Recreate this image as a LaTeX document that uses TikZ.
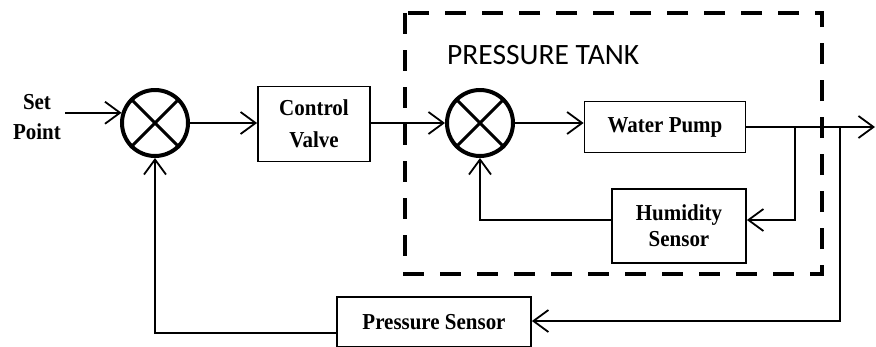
\documentclass[tikz,border=0pt]{standalone}
\usepackage{fontspec}
\setmainfont{Liberation Serif}[FakeStretch=0.92]
\newfontfamily\tankfont{Carlito}
\usetikzlibrary{arrows.meta}
\begin{document}
\begin{tikzpicture}[x=1pt,y=-1pt,
  blk/.style={draw,line width=1.8pt,align=center,inner sep=0pt,font=\fontsize{22.8}{26}\selectfont\bfseries},
  sumnode/.style={draw,circle,line width=4pt,minimum size=66pt,inner sep=0pt},
  conn/.style={line width=1.8pt},
  arr/.style={conn,-{Straight Barb[length=15pt,width=22pt,line width=1.8pt]}},
  tank/.style={draw,line width=4pt,dash pattern=on 21pt off 16pt}]
\useasboundingbox (0,0) rectangle (876,346);
\fill[white] (0,0) rectangle (876,346);
% dashed pressure tank boundary
\draw[tank] (405,13) rectangle (822,274);
\node[font=\tankfont\fontsize{29.5}{33}\selectfont,anchor=west,inner sep=0pt] (title) at (447,55) {PRESSURE TANK};
% nodes
\node[align=center,inner sep=0pt,font=\fontsize{22.8}{30}\selectfont\bfseries] (sp) at (37,117) {Set\\Point};
\node[sumnode] (s1) at (155,123) {};
\node[blk,minimum width=112pt,minimum height=75pt,font=\fontsize{22.8}{32}\selectfont\bfseries] (cv) at (314,124) {Control\\Valve};
\node[sumnode] (s2) at (480,123) {};
\node[blk,minimum width=161pt,minimum height=51pt] (wp) at (665,127) {Water Pump};
\node[blk,minimum width=134pt,minimum height=74pt] (hs) at (679,226) {Humidity\\Sensor};
\node[blk,minimum width=194pt,minimum height=50pt] (ps) at (434,322) {Pressure Sensor};
\coordinate (b1) at (795,127);
\coordinate (b2) at (840,127);
\coordinate (out) at (875,127);
% crosses inside summing junctions
\foreach \s in {s1,s2}{
  \draw[line width=3pt] (\s.45) -- (\s.225);
  \draw[line width=3pt] (\s.135) -- (\s.315);
}
% connectors
\draw[arr] (s1.163 -| 65,0) -- (s1.163);
\draw[arr] (s1.east) -- (cv.west |- s1.east);
\draw[arr] (cv.east |- s2.west) -- (s2.west);
\draw[arr] (s2.east) -- (wp.west |- s2.east);
\draw[arr] (wp.east) -- (out);
\draw[arr] (b1) -- (b1 |- 0,220) -- (hs.east |- 0,220);
\draw[arr] (hs.west |- 0,220) -- (s2.south |- 0,220) -- (s2.south);
\draw[arr] (b2) -- (b2 |- 0,321) -- (ps.east |- 0,321);
\draw[arr] (ps.west |- 0,333) -- (s1.south |- 0,333) -- (s1.south);
\end{tikzpicture}
\end{document}
